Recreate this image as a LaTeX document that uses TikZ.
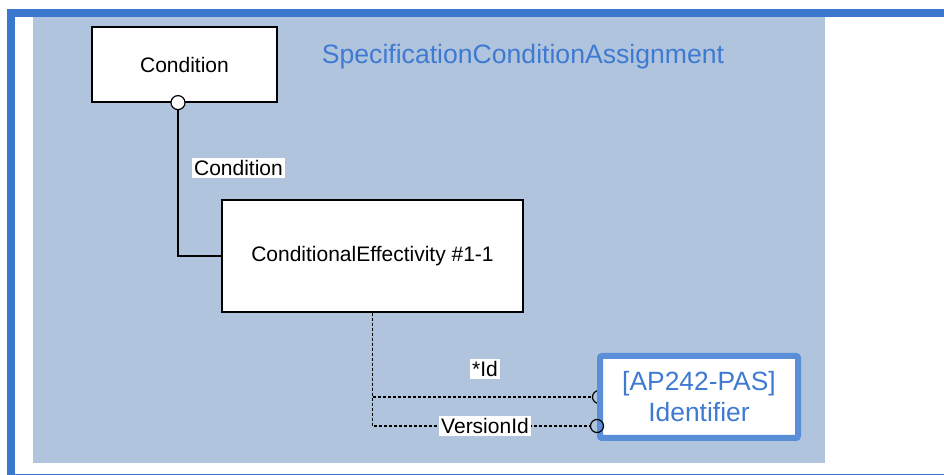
\documentclass[tikz,border=0pt]{standalone}
\usepackage{fontspec}
\setmainfont{Liberation Sans}
\definecolor{framebl}{HTML}{3A78D0}
\definecolor{panelbl}{HTML}{B0C4DE}
\definecolor{idbl}{HTML}{5B8ED8}
\definecolor{txtbl}{HTML}{3F7AD2}
\begin{document}
\begin{tikzpicture}[x=0.5pt,y=-0.5pt,
  entity/.style={draw,fill=white,line width=0.6pt,inner sep=0pt,font=\fontsize{10.5}{12}\selectfont},
  extent/.style={draw=idbl,fill=white,line width=3pt,rounded corners=1pt,inner sep=0pt,
    text=txtbl,align=center,font=\fontsize{13.2}{15.5}\selectfont},
  role/.style={fill=white,inner sep=1pt,font=\fontsize{10.5}{12}\selectfont},
  assoc/.style={line width=0.6pt},
  ref/.style={line width=0.6pt,dash pattern=on 1.5pt off 1pt}]
  \useasboundingbox (0,0) rectangle (944,475);
  \fill[white] (0,0) rectangle (944,475);
  \draw[framebl,line width=4pt] (11,13) rectangle (952,478);
  \fill[panelbl] (33,17) rectangle (825,463);
  \node[text=txtbl,font=\fontsize{13.3}{15}\selectfont] (title) at (523,57) {SpecificationConditionAssignment};
  \node[entity,minimum width=92.5pt,minimum height=37.5pt] (cond) at (184.5,64.5) {Condition};
  \node[entity,minimum width=150.5pt,minimum height=56pt] (ce) at (372.5,256) {ConditionalEffectivity \#1-1};
  \coordinate (idport) at (599,397);
  \draw[ref] (ce.south) |- ([xshift=-3.25pt]idport);
  \draw[line width=0.6pt] ([yshift=3.25pt]idport) arc[start angle=90,end angle=270,radius=3.25pt];
  \node[extent,minimum width=99pt,minimum height=41pt] (ident) at (699,397) {[AP242-PAS]\\Identifier};
  \coordinate (verport) at ([yshift=-14.5pt]ident.west);
  \draw[ref] (ce.south) |- ([xshift=-3.25pt]verport);
  \draw[line width=0.6pt] (verport) circle[radius=3.25pt];
  \coordinate (condport) at ([xshift=-3.25pt]cond.south);
  \draw[assoc] ([yshift=-3.5pt]condport) |- (ce.west);
  \draw[line width=0.6pt,fill=white] (condport) circle[radius=3.5pt];
  \node[role] (lcond) at (238.5,168) {Condition};
  \node[role] (lid) at (485,369) {*Id};
  \node[role] (lver) at (485,426) {VersionId};
\end{tikzpicture}
\end{document}
